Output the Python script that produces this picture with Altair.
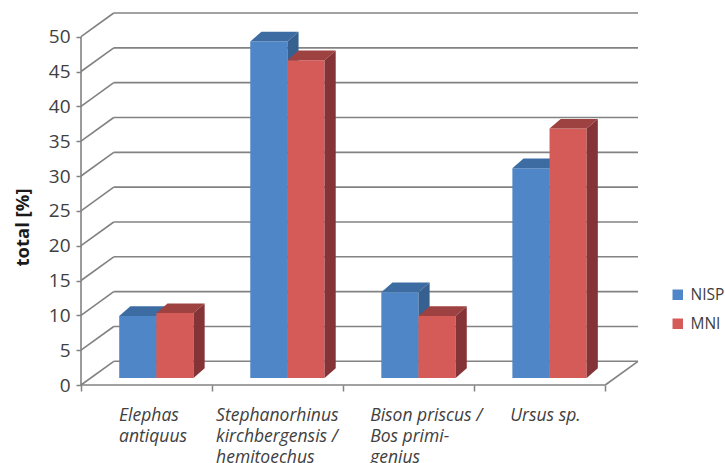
import json
import altair as alt
import pandas as pd

# ---- data ---------------------------------------------------------------
categories = [
    "Elephas antiquus",
    "Stephanorhinus kirchbergensis / hemitoechus",
    "Bison priscus / Bos primigenius",
    "Ursus sp.",
]
label_lines = [
    ["Elephas", "antiquus"],
    ["Stephanorhinus", "kirchbergensis /", "hemitoechus"],
    ["Bison priscus /", "Bos primi-", "genius"],
    ["Ursus sp."],
]
series = ["NISP", "MNI"]
nisp = [8.9, 48.3, 12.3, 30.1]
mni = [9.3, 45.6, 8.9, 35.8]
y_ticks = [0, 5, 10, 15, 20, 25, 30, 35, 40, 45, 50]

# ---- 3-D box geometry (data units) -------------------------------------
WALL_DX, WALL_DY = 0.25, 3.4          # offset of the back wall
X_MAX, Y_MAX = 4 + WALL_DX, 50 + WALL_DY
BAR_Z = 0.3                           # bar front face sits 30 % into the box
BAR_DX, BAR_DY = 0.085, 1.38          # depth of a bar
GROUP_LEFT, BAR_W = 0.2165, 0.2835

FONT = "Open Sans"
GRID = "#828282"
TEXT = "#404040"
FACE = {
    "NISP": {"front": "#4F86C7", "top": "#3D6CA3", "side": "#366090"},
    "MNI": {"front": "#D45B58", "top": "#9D4241", "side": "#843436"},
}

xs = alt.Scale(domain=[0, X_MAX], nice=False, zero=False)
ys = alt.Scale(domain=[0, Y_MAX], nice=False, zero=False)

# ---- bar faces -----------------------------------------------------------
bar_rows, top_rows, side_rows = [], [], []
for i, cat in enumerate(categories):
    for s, (name, vals) in enumerate(zip(series, [nisp, mni])):
        v = vals[i]
        key = f"{i}-{s}"
        x0 = i + GROUP_LEFT + s * BAR_W + BAR_Z * WALL_DX
        x1 = x0 + BAR_W
        yb = BAR_Z * WALL_DY
        yt = yb + v
        bar_rows.append(dict(key=key, category=cat, series=name, value=v,
                             x0=x0, x1=x1, yb=yb, yt=yt))
        top_rows += [
            dict(key=key, series=name, y=yt, xa=x0, xb=x1),
            dict(key=key, series=name, y=yt + BAR_DY, xa=x0 + BAR_DX, xb=x1 + BAR_DX),
        ]
        side_rows += [
            dict(key=key, series=name, x=x1, ya=yb, yb=yt),
            dict(key=key, series=name, x=x1 + BAR_DX, ya=yb + BAR_DY, yb=yt + BAR_DY),
        ]
bars = pd.DataFrame(bar_rows)
tops = pd.DataFrame(top_rows)
sides = pd.DataFrame(side_rows)

# ---- box frame -----------------------------------------------------------
back_grid = pd.DataFrame({"v": y_ticks})
back_grid["xa"] = WALL_DX
back_grid["xb"] = X_MAX
back_grid["y"] = back_grid["v"] + WALL_DY

diag = pd.DataFrame({"v": y_ticks})
diag["xa"] = 0.0
diag["xb"] = WALL_DX
diag["ya"] = diag["v"]
diag["yb"] = diag["v"] + WALL_DY

edges = pd.DataFrame([
    dict(xa=0, xb=4, ya=0, yb=0),                  # front floor edge
    dict(xa=4, xb=X_MAX, ya=0, yb=WALL_DY),        # right floor edge
    dict(xa=0, xb=0, ya=0, yb=50),                 # value axis line
])

# ---- axes ----------------------------------------------------------------
x_values = [k / 2 for k in range(9)]
label_expr = ("datum.value % 1 == 0 ? '' : "
              + json.dumps(label_lines) + "[floor(datum.value)]")
x_axis = alt.Axis(
    values=x_values, title=None, domain=False, grid=False,
    tickSize=6, tickWidth=1.5, tickColor=GRID,
    tickOpacity={"condition": {"test": "datum.value % 1 != 0", "value": 0}, "value": 1},
    labelExpr=label_expr, labelAlign="left", labelBaseline="top",
    labelPadding=15, labelLineHeight=21,
    labelOffset={"condition": [
        {"test": "datum.value == 0.5", "value": -28},
        {"test": "datum.value == 1.5", "value": -62},
        {"test": "datum.value == 2.5", "value": -39},
    ], "value": -30},
    labelFont=FONT, labelFontStyle="italic", labelFontSize=17.5, labelColor=TEXT,
    labelOverlap=False, labelFlush=False,
)
y_axis = alt.Axis(
    values=y_ticks, title="total [%]", domain=False, grid=False,
    tickSize=5, tickWidth=1.5, tickColor=GRID,
    labelFont=FONT, labelFontSize=19, labelColor=TEXT, labelPadding=6,
    labelOverlap=False, labelFlush=False,
    titleFont=FONT, titleFontSize=18.5, titleFontWeight="bold", titleColor="#1a1a1a",
    titleAngle=270, titleX=-59, titleY=214, titleAlign="center", titleBaseline="middle",
)


def X(field, **kw):
    return alt.X(field, scale=xs, axis=x_axis, **kw)


def Y(field, **kw):
    return alt.Y(field, scale=ys, axis=y_axis, **kw)


layers = [
    alt.Chart(back_grid).mark_rule(color=GRID, strokeWidth=1.6).encode(
        x=X("xa:Q"), x2="xb", y=Y("y:Q")),
    alt.Chart(diag).mark_rule(color=GRID, strokeWidth=1.6).encode(
        x=X("xa:Q"), x2="xb", y=Y("ya:Q"), y2="yb"),
    alt.Chart(edges).mark_rule(color=GRID, strokeWidth=1.6).encode(
        x=X("xa:Q"), x2="xb", y=Y("ya:Q"), y2="yb"),
]

legend = alt.Legend(
    orient="none", legendX=589, legendY=274, title=None,
    symbolType="square", symbolSize=110, symbolStrokeWidth=0,
    labelFont=FONT, labelFontSize=15.5, labelColor=TEXT, labelOffset=5,
    rowPadding=12, padding=0,
)
color = alt.Color("series:N", legend=legend,
                  scale=alt.Scale(domain=series,
                                  range=[FACE[s]["front"] for s in series]))

for name in series:
    cond = alt.datum.series == name
    layers += [
        alt.Chart(bars).transform_filter(cond).mark_rect().encode(
            x=X("x0:Q"), x2="x1", y=Y("yb:Q"), y2="yt", color=color),
        alt.Chart(tops).transform_filter(cond).mark_area(
            orient="horizontal", color=FACE[name]["top"]).encode(
            y=Y("y:Q"), x=X("xa:Q", stack=False), x2="xb", detail="key:N"),
        alt.Chart(sides).transform_filter(cond).mark_area(
            orient="vertical", color=FACE[name]["side"]).encode(
            x=X("x:Q"), y=Y("ya:Q", stack=False), y2="yb", detail="key:N"),
    ]

chart = alt.layer(*layers).properties(
    width=557, height=372,
    autosize=alt.AutoSizeParams(type="none"),
    padding={"left": 81, "top": 13, "right": 87, "bottom": 78},
    background="white",
).configure(font=FONT).configure_view(strokeWidth=0)

chart.save("out.html", embed_options={"renderer": "svg", "actions": False})
